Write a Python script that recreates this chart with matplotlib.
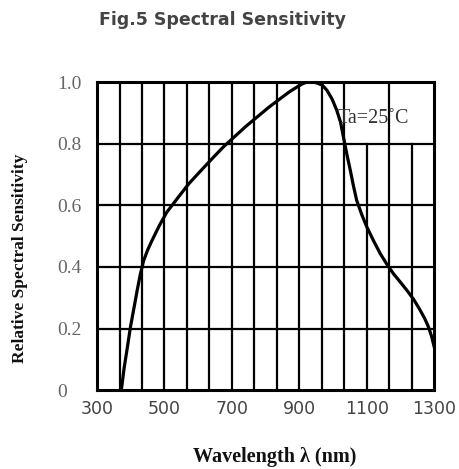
import numpy as np
import matplotlib
matplotlib.use("Agg")
import matplotlib.pyplot as plt

# curve (wavelength nm, relative sensitivity)
wavelength = [372, 380, 390, 399, 410, 419, 428, 438, 450, 463, 485, 507, 540, 572,
              610, 646, 675, 705, 740, 774, 808, 843, 870, 893, 910, 923, 940, 952,
              968, 982, 997, 1011, 1022, 1031, 1041, 1051, 1060, 1070, 1085, 1100,
              1120, 1140, 1160, 1179, 1200, 1219, 1240, 1258, 1272, 1283, 1292, 1300]
sensitivity = [0.0, 0.07, 0.14, 0.205, 0.27, 0.324, 0.375, 0.42, 0.455, 0.486, 0.535,
               0.578, 0.625, 0.67, 0.715, 0.757, 0.79, 0.82, 0.855, 0.886, 0.917, 0.946,
               0.968, 0.984, 0.995, 1.0, 1.0, 0.997, 0.99, 0.973, 0.945, 0.908, 0.87,
               0.82, 0.765, 0.714, 0.665, 0.616, 0.57, 0.53, 0.485, 0.443, 0.408, 0.378,
               0.35, 0.324, 0.293, 0.26, 0.232, 0.205, 0.175, 0.14]

x_ticks = [300, 500, 700, 900, 1100, 1300]
y_ticks = [0, 0.2, 0.4, 0.6, 0.8, 1.0]
y_tick_labels = ["0", "0.2", "0.4", "0.6", "0.8", "1.0"]
x_grid = np.linspace(300, 1300, 16)
short_grid = [1100, 1233]  # lines hidden behind the Ta label

fig = plt.figure(figsize=(4.6, 4.69), dpi=100)
ax = fig.add_axes([0.211, 0.168, 0.733, 0.657])

for gx in x_grid[1:-1]:
    top = 0.8 if any(abs(gx - s) < 5 for s in short_grid) else 1.0
    ax.plot([gx, gx], [0, top], color="black", lw=1.6, zorder=1)
for gy in y_ticks[1:-1]:
    ax.axhline(gy, color="black", lw=1.6, zorder=1)

ax.plot(wavelength, sensitivity, color="black", lw=2.3, zorder=3)

ax.set_xlim(300, 1300)
ax.set_ylim(0, 1.0)
ax.set_xticks(x_ticks)
ax.set_xticklabels([str(t) for t in x_ticks], fontsize=12.5, color="#444444",
                   family="DejaVu Sans")
ax.set_yticks(y_ticks)
ax.set_yticklabels(y_tick_labels, fontsize=14, color="#666666",
                   family="Liberation Serif")
for lab in ax.get_yticklabels():
    lab.set_ha("left")
ax.tick_params(axis="y", length=0, pad=29)
ax.tick_params(axis="x", length=0, pad=7)
for sp in ax.spines.values():
    sp.set_linewidth(2.2)
    sp.set_color("black")

ax.text(1013, 0.883, "Ta=25\u02daC", fontsize=14.5, family="Liberation Serif",
        color="#333333", ha="left", va="center", zorder=4)

fig.text(0.483, 0.957, "Fig.5 Spectral Sensitivity", ha="center", va="center",
         fontsize=12.5, fontweight="bold", color="#444444", family="DejaVu Sans")
fig.text(0.598, 0.026, "Wavelength \u03bb (nm)", ha="center", va="center",
         fontsize=14.5, fontweight="bold", family="Liberation Serif", color="#111111")
fig.text(0.043, 1 - 258 / 469, "Relative Spectral Sensitivity", rotation=90,
         ha="center", va="center", fontsize=12.5, fontweight="bold",
         family="Liberation Serif", color="#111111")

fig.savefig("out.png", dpi=100)
